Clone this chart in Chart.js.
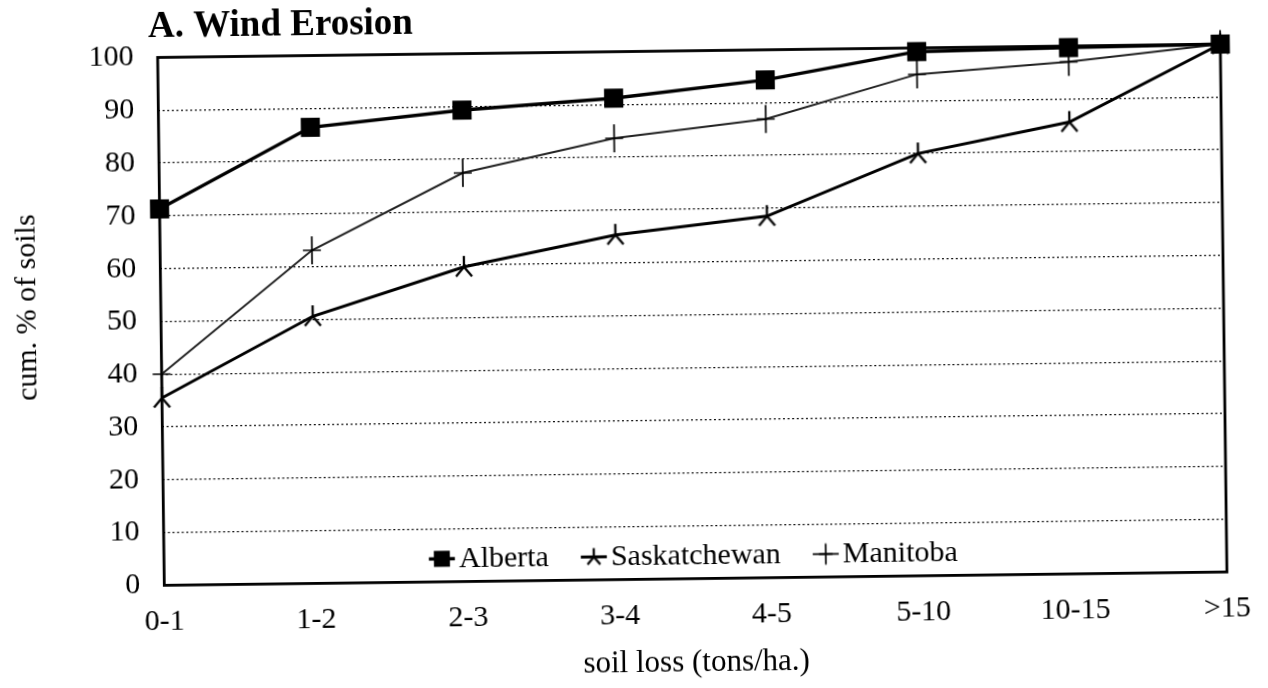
<!DOCTYPE html>
<html>
<head>
<meta charset="utf-8">
<title>A. Wind Erosion</title>
<script src="https://cdn.jsdelivr.net/npm/chart.js@4.4.1/dist/chart.umd.min.js"></script>
<style>
  html, body { margin: 0; padding: 0; background: #fff; overflow: hidden; }
  #wrap {
    position: absolute; left: 0; top: 0; width: 1268px; height: 688px;
    transform: rotate(-0.72deg); transform-origin: 634px 344px;
  }
  canvas { display: block; }
</style>
</head>
<body>
<div id="wrap"><canvas id="chart" width="1268" height="688"></canvas></div>
<script>
// Cumulative share of soils by soil-loss class
const categories   = ['0-1', '1-2', '2-3', '3-4', '4-5', '5-10', '10-15', '>15'];
const alberta      = [71.3, 86.4, 89.3, 91.2, 94.3, 99.3, 99.7, 100];
const saskatchewan = [35.5, 50.6, 59.6, 65.3, 68.5, 80.0, 85.6, 100];
const manitoba     = [40.0, 63.1, 77.4, 83.6, 86.9, 95.0, 97.0, 100];
const yTicks       = [0, 10, 20, 30, 40, 50, 60, 70, 80, 90, 100];
const yTitle       = 'cum. % of soils';
const xTitle       = 'soil loss (tons/ha.)';
const heading      = 'A. Wind Erosion';

const SERIF = '"Liberation Serif", "Times New Roman", Times, serif';
Chart.defaults.font.family = SERIF;
Chart.defaults.color = '#000';

// Marker images: upright three-armed star and a tall plus sign
function makeMarker(kind, k) {
  const size = Math.ceil(32 * k);
  const cv = document.createElement('canvas');
  cv.width = size; cv.height = size;
  const g = cv.getContext('2d');
  const c = size / 2;
  g.strokeStyle = '#000';
  g.lineCap = 'butt';
  g.beginPath();
  if (kind === 'star') {
    g.lineWidth = 2.3;
    g.moveTo(c, c); g.lineTo(c, c - 11 * k);
    g.moveTo(c, c); g.lineTo(c - 8 * k, c + 9.5 * k);
    g.moveTo(c, c); g.lineTo(c + 8 * k, c + 9.5 * k);
  } else {
    g.lineWidth = 1.7;
    g.moveTo(c, c - 14 * k); g.lineTo(c, c + 14 * k);
    g.moveTo(c - 9 * k, c); g.lineTo(c + 9 * k, c);
  }
  g.stroke();
  return cv;
}
const starMarker = makeMarker('star', 1);
const plusMarker = makeMarker('plus', 1);
const starLegend = makeMarker('star', 0.8);
const plusLegend = makeMarker('plus', 0.75);

// Closed frame around the plotting area
const frame = {
  id: 'frame',
  beforeDatasetsDraw(chart) {
    const { ctx, chartArea: a } = chart;
    ctx.save();
    ctx.strokeStyle = '#000';
    ctx.lineWidth = 2.8;
    ctx.strokeRect(a.left, a.top, a.right - a.left, a.bottom - a.top);
    ctx.restore();
  }
};

// Heading in the top-left corner and the vertical axis caption
const captions = {
  id: 'captions',
  afterDraw(chart) {
    const { ctx } = chart;
    ctx.save();
    ctx.fillStyle = '#000';
    ctx.font = 'bold 37px ' + SERIF;
    ctx.textBaseline = 'alphabetic';
    ctx.textAlign = 'left';
    ctx.fillText(heading, 152, 31);

    ctx.font = '30px ' + SERIF;
    ctx.textBaseline = 'middle';
    ctx.textAlign = 'center';
    ctx.translate(28, 300);
    ctx.rotate(-Math.PI / 2);
    ctx.fillText(yTitle, 0, 0);
    ctx.restore();
  }
};

// Single-row key drawn inside the bottom of the plotting area
const keyRow = {
  id: 'keyRow',
  afterDatasetsDraw(chart) {
    const { ctx, chartArea: a } = chart;
    const sample = 26, gap = 4, spacing = 32;
    ctx.save();
    ctx.font = '30px ' + SERIF;
    ctx.textBaseline = 'middle';
    ctx.textAlign = 'left';
    const items = chart.data.datasets.map(ds => ({
      ds, w: sample + gap + ctx.measureText(ds.label).width
    }));
    const total = items.reduce((s, it) => s + it.w, 0) + spacing * (items.length - 1);
    let x = (a.left + a.right) / 2 - total / 2 - 2;
    const y = a.bottom - 23;
    items.forEach(it => {
      const ds = it.ds;
      const cx = x + sample / 2;
      ctx.strokeStyle = ds.borderColor;
      ctx.lineWidth = ds.borderWidth;
      ctx.beginPath(); ctx.moveTo(x, y); ctx.lineTo(x + sample, y); ctx.stroke();
      if (ds.pointStyle === 'rect') {
        ctx.fillStyle = '#000';
        ctx.fillRect(cx - 8, y - 8, 16, 16);
      } else {
        const img = ds.pointStyle === starMarker ? starLegend : plusLegend;
        ctx.drawImage(img, cx - img.width / 2, y - img.height / 2);
      }
      ctx.fillStyle = '#000';
      ctx.fillText(ds.label, x + sample + gap, y + 1);
      x += it.w + spacing;
    });
    ctx.restore();
  }
};

new Chart(document.getElementById('chart'), {
  type: 'line',
  data: {
    labels: categories,
    datasets: [
      {
        label: 'Alberta', data: alberta,
        borderColor: '#000', borderWidth: 3.4,
        pointStyle: 'rect', pointRadius: 13.5, pointBackgroundColor: '#000',
        pointBorderWidth: 0, tension: 0, clip: false
      },
      {
        label: 'Saskatchewan', data: saskatchewan,
        borderColor: '#000', borderWidth: 3,
        pointStyle: starMarker, pointRadius: 12, tension: 0, clip: false
      },
      {
        label: 'Manitoba', data: manitoba,
        borderColor: '#222', borderWidth: 2,
        pointStyle: plusMarker, pointRadius: 12, tension: 0, clip: false
      }
    ]
  },
  options: {
    responsive: false,
    animation: false,
    devicePixelRatio: 1,
    layout: { padding: { left: 10, right: 44, top: 51.5, bottom: 0 } },
    plugins: {
      legend: { display: false },
      title: { display: false },
      tooltip: { enabled: false }
    },
    scales: {
      x: {
        offset: false,
        grid: { display: false, drawTicks: false },
        border: { display: false },
        ticks: { padding: 19, font: { size: 30 }, color: '#000', maxRotation: 0, autoSkip: false },
        title: { display: true, text: xTitle, font: { size: 31 }, color: '#000',
                 padding: { top: 0, bottom: 6 } },
        afterFit(scale) { scale.height = 108.6; }
      },
      y: {
        min: 0, max: 100,
        afterBuildTicks(scale) { scale.ticks = yTicks.map(v => ({ value: v })); },
        grid: {
          drawTicks: false, lineWidth: 1.3,
          color: c => (c.tick && (c.tick.value === 0 || c.tick.value === 100)) ? 'rgba(0,0,0,0)' : '#111'
        },
        border: { display: false, dash: [2, 2.6] },
        ticks: { padding: 24, font: { size: 30 }, color: '#000' },
        afterFit(scale) { scale.width = 151.3; }
      }
    }
  },
  plugins: [frame, keyRow, captions]
});
</script>
</body>
</html>
